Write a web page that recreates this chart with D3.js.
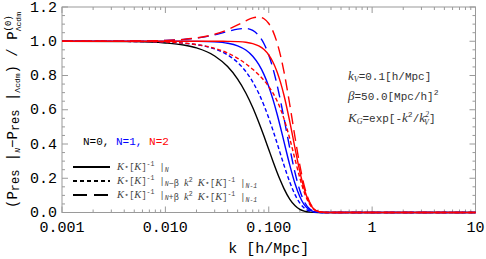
<!DOCTYPE html>
<html>
<head>
<meta charset="utf-8">
<script src="https://cdn.jsdelivr.net/npm/d3@7/dist/d3.min.js"></script>
<style>
  html, body { margin: 0; padding: 0; background: #fff; }
  svg { display: block; }
  text { font-family: "Liberation Mono", "DejaVu Sans Mono", monospace; }
</style>
</head>
<body>
<svg id="chart" width="486" height="259"></svg>
<script>
// ---------- data ----------
const kValues = [0.001, 0.005, 0.01, 0.015, 0.02, 0.03, 0.04, 0.05, 0.06, 0.07, 0.08, 0.09, 0.10, 0.11, 0.12, 0.13, 0.14, 0.16, 0.18, 0.20, 0.22, 0.25, 0.30, 0.35, 1, 10];

const n0Solid = [1, 0.998, 0.990, 0.978, 0.961, 0.914, 0.852, 0.779, 0.698, 0.613, 0.527, 0.445, 0.368, 0.298, 0.237, 0.185, 0.141, 0.077, 0.039, 0.018, 0.008, 0.002, 0, 0, 0, 0];

const n1Solid = [1, 1, 1, 0.9998, 0.9992, 0.9962, 0.9885, 0.9735, 0.9489, 0.9128, 0.8648, 0.8052, 0.7358, 0.6590, 0.5781, 0.4963, 0.4169, 0.2752, 0.1660, 0.0916, 0.0462, 0.0140, 0.0012, 0.0001, 0, 0];
const n1Minus = [1, 0.9988, 0.9950, 0.9887, 0.9800, 0.9551, 0.9203, 0.8762, 0.8233, 0.7627, 0.6960, 0.6250, 0.5518, 0.4786, 0.4075, 0.3404, 0.2789, 0.1762, 0.1026, 0.0550, 0.0271, 0.0080, 0.0007, 0, 0, 0];
const n1Plus  = [1, 1.0012, 1.0049, 1.0107, 1.0184, 1.0373, 1.0567, 1.0709, 1.0744, 1.0629, 1.0335, 0.9854, 0.9197, 0.8394, 0.7487, 0.6522, 0.5550, 0.3741, 0.2295, 0.1282, 0.0653, 0.0200, 0.0018, 0.0001, 0, 0];

const n2Solid = [1, 1, 1, 1, 1, 0.9999, 0.9993, 0.9978, 0.9941, 0.9863, 0.9728, 0.9512, 0.9197, 0.8773, 0.8237, 0.7598, 0.6877, 0.5285, 0.3720, 0.2381, 0.1388, 0.0517, 0.0062, 0.0004, 0, 0];
const n2Minus = [1, 0.9988, 0.9950, 0.9890, 0.9808, 0.9587, 0.9312, 0.9005, 0.8685, 0.8363, 0.8040, 0.7710, 0.7358, 0.6969, 0.6532, 0.6039, 0.5495, 0.4295, 0.3081, 0.2015, 0.1197, 0.0457, 0.0057, 0.0004, 0, 0];
const n2Plus  = [1, 1.0012, 1.0050, 1.0110, 1.0192, 1.0410, 1.0676, 1.0952, 1.1196, 1.1365, 1.1415, 1.1313, 1.1036, 1.0577, 0.9944, 0.9157, 0.8256, 0.6274, 0.4350, 0.2748, 0.1580, 0.0577, 0.0068, 0.0005, 0, 0];

const xTickValues = [0.001, 0.01, 0.1, 1, 10];
const xTickLabels = ["0.001", "0.010", "0.100", "1", "10"];
const yTickValues = [0, 0.2, 0.4, 0.6, 0.8, 1.0, 1.2];
const yTickLabels = ["0.0", "0.2", "0.4", "0.6", "0.8", "1.0", "1.2"];

const seriesNames = ["N=0", "N=1", "N=2"];
const seriesColors = ["#000000", "#0000ff", "#ff0000"];

// ---------- layout ----------
const svg = d3.select("#chart");
const L = 62, R = 475.5, T = 7, B = 212.5;
const x = d3.scaleLog().domain([0.001, 10]).range([L, R]);
const y = d3.scaleLinear().domain([0, 1.2]).range([B, T]);

svg.append("rect").attr("width", 486).attr("height", 259).attr("fill", "#fff");

const frameColor = "#9a9a9a";

// minor ticks
const xMinor = [];
for (let e = -3; e < 1; e++) for (let m = 2; m <= 9; m++) xMinor.push(m * Math.pow(10, e));
const yMinor = d3.range(0, 1.2001, 0.05).filter(v => Math.abs(v * 5 - Math.round(v * 5)) > 1e-6);

const tickG = svg.append("g").attr("stroke", frameColor).attr("stroke-width", 1);
xTickValues.forEach(v => {
  tickG.append("line").attr("x1", x(v)).attr("x2", x(v)).attr("y1", B).attr("y2", B - 6);
  tickG.append("line").attr("x1", x(v)).attr("x2", x(v)).attr("y1", T).attr("y2", T + 6);
});
xMinor.forEach(v => {
  tickG.append("line").attr("x1", x(v)).attr("x2", x(v)).attr("y1", B).attr("y2", B - 3);
  tickG.append("line").attr("x1", x(v)).attr("x2", x(v)).attr("y1", T).attr("y2", T + 3);
});
yTickValues.forEach(v => {
  tickG.append("line").attr("y1", y(v)).attr("y2", y(v)).attr("x1", L).attr("x2", L + 6);
  tickG.append("line").attr("y1", y(v)).attr("y2", y(v)).attr("x1", R).attr("x2", R - 6);
});
yMinor.forEach(v => {
  tickG.append("line").attr("y1", y(v)).attr("y2", y(v)).attr("x1", L).attr("x2", L + 3);
  tickG.append("line").attr("y1", y(v)).attr("y2", y(v)).attr("x1", R).attr("x2", R - 3);
});

// frame
svg.append("rect").attr("x", L).attr("y", T).attr("width", R - L).attr("height", B - T)
  .attr("fill", "none").attr("stroke", frameColor).attr("stroke-width", 1);

// tick labels
svg.append("g").selectAll("text").data(xTickValues).join("text")
  .attr("x", d => x(d)).attr("y", 232).attr("text-anchor", "middle")
  .attr("font-size", 15).attr("fill", "#000")
  .text((d, i) => xTickLabels[i]);
svg.append("g").selectAll("text").data(yTickValues).join("text")
  .attr("x", 57).attr("y", d => y(d) + 4.5).attr("text-anchor", "end")
  .attr("font-size", 15).attr("fill", "#000")
  .text((d, i) => yTickLabels[i]);

// axis titles
svg.append("text").attr("x", (L + R) / 2).attr("y", 253).attr("text-anchor", "middle")
  .attr("font-size", 15).attr("fill", "#000").text("k [h/Mpc]");

const yl = svg.append("text").attr("transform", "translate(17,110) rotate(-90)")
  .attr("text-anchor", "middle").attr("font-size", 14).attr("fill", "#000");
yl.append("tspan").text("(P");
yl.append("tspan").attr("font-size", 12).attr("dy", 2).text("res");
yl.append("tspan").attr("dy", -2).text(" |");
yl.append("tspan").attr("font-size", 8).attr("font-style", "italic").attr("dy", 3).text("N");
yl.append("tspan").attr("dy", -3).text("\u2212P");
yl.append("tspan").attr("font-size", 12).attr("dy", 2).text("res");
yl.append("tspan").attr("dy", -2).text(" |");
yl.append("tspan").attr("font-size", 8).attr("dy", 3).text("\u039bcdm");
yl.append("tspan").attr("dy", -3).text(") / P");
yl.append("tspan").attr("font-size", 9).attr("dy", -6).text("(0)");
yl.append("tspan").attr("font-size", 8).attr("dx", -16).attr("dy", 10).text("\u039bcdm");

// ---------- curves ----------
const line = d3.line()
  .x(d => x(d[0])).y(d => y(d[1]))
  .curve(d3.curveMonotoneX);

const curves = [
  { vals: n0Solid, color: seriesColors[0], dash: null },
  { vals: n1Minus, color: seriesColors[1], dash: "4,2.5" },
  { vals: n1Solid, color: seriesColors[1], dash: null },
  { vals: n1Plus,  color: seriesColors[1], dash: "11,6" },
  { vals: n2Minus, color: seriesColors[2], dash: "4,2.5" },
  { vals: n2Solid, color: seriesColors[2], dash: null },
  { vals: n2Plus,  color: seriesColors[2], dash: "11,6" }
];

svg.append("g").selectAll("path").data(curves).join("path")
  .attr("d", c => line(kValues.map((k, i) => [k, c.vals[i]])))
  .attr("fill", "none")
  .attr("stroke", c => c.color)
  .attr("stroke-width", 1.4)
  .attr("stroke-dasharray", c => c.dash);

// ---------- parameter annotations ----------
const ann = svg.append("g").attr("fill", "#333").attr("font-size", 11);
const a1 = ann.append("text").attr("x", 348).attr("y", 80);
a1.append("tspan").attr("font-style", "italic").attr("font-family", "Liberation Serif").attr("font-size", 13).text("k");
a1.append("tspan").attr("font-style", "italic").attr("font-family", "Liberation Serif").attr("font-size", 8).attr("dy", 2).text("V");
a1.append("tspan").attr("dy", -2).text("=0.1[h/Mpc]");

const a2 = ann.append("text").attr("x", 348).attr("y", 100);
a2.append("tspan").attr("font-style", "italic").attr("font-family", "Liberation Serif").attr("font-size", 13).text("\u03b2");
a2.append("tspan").text("=50.0[Mpc/h]");
a2.append("tspan").attr("font-size", 8).attr("dy", -5).text("2");

const a3 = ann.append("text").attr("x", 348).attr("y", 122);
a3.append("tspan").attr("font-style", "italic").attr("font-family", "Liberation Serif").attr("font-size", 13).text("K");
a3.append("tspan").attr("font-style", "italic").attr("font-family", "Liberation Serif").attr("font-size", 8).attr("dy", 2).text("G");
a3.append("tspan").attr("dy", -2).text("=exp[-");
a3.append("tspan").attr("font-style", "italic").attr("font-family", "Liberation Serif").attr("font-size", 13).text("k");
a3.append("tspan").attr("font-size", 8).attr("dy", -5).text("2");
a3.append("tspan").attr("dy", 5).text("/");
a3.append("tspan").attr("font-style", "italic").attr("font-family", "Liberation Serif").attr("font-size", 13).text("k");
a3.append("tspan").attr("font-style", "italic").attr("font-family", "Liberation Serif").attr("font-size", 8).attr("dy", -5).text("2");
a3.append("tspan").attr("font-style", "italic").attr("font-family", "Liberation Serif").attr("font-size", 8).attr("dx", -5).attr("dy", 8).text("V");
a3.append("tspan").attr("dy", -3).text("]");

// ---------- legend ----------
const lg = svg.append("g");
const nt = lg.append("text").attr("x", 83).attr("y", 145).attr("font-size", 11);
seriesNames.forEach((s, i) => {
  nt.append("tspan").attr("fill", seriesColors[i]).text(s);
  if (i < seriesNames.length - 1) nt.append("tspan").attr("fill", seriesColors[i]).text(", ");
});

const legendStyles = [null, "4,3", "14,7"];
legendStyles.forEach((dash, i) => {
  const yy = 167 + i * 14;
  lg.append("line").attr("x1", 73).attr("x2", 110).attr("y1", yy).attr("y2", yy)
    .attr("stroke", "#000").attr("stroke-width", 2.2).attr("stroke-dasharray", dash);
});

function legendLabel(yy, extra) {
  const t = lg.append("text").attr("x", 117).attr("y", yy + 3).attr("font-size", 8.6).attr("fill", "#444");
  const K = () => t.append("tspan").attr("font-style", "italic").attr("font-family", "Liberation Serif").attr("font-size", 10.5).text("K");
  const base = () => {
    K(); t.append("tspan").text("\u22c6[");
    K(); t.append("tspan").text("]");
    t.append("tspan").attr("font-size", 6.5).attr("dy", -4).text("-1");
    t.append("tspan").attr("dy", 4).text(" |");
  };
  base();
  t.append("tspan").attr("font-style", "italic").attr("font-size", 6.5).attr("dy", 2).text("N");
  t.append("tspan").attr("dy", -2).text("");
  if (extra) {
    t.append("tspan").text(extra + "\u03b2 ");
    t.append("tspan").attr("font-style", "italic").attr("font-family", "Liberation Serif").attr("font-size", 10.5).text("k");
    t.append("tspan").attr("font-size", 6.5).attr("dy", -4).text("2");
    t.append("tspan").attr("dy", 4).text(" ");
    base();
    t.append("tspan").attr("font-style", "italic").attr("font-size", 6.5).attr("dy", 2).text("N-1");
  }
}
legendLabel(167, null);
legendLabel(181, "\u2212");
legendLabel(195, "+");
</script>
</body>
</html>
